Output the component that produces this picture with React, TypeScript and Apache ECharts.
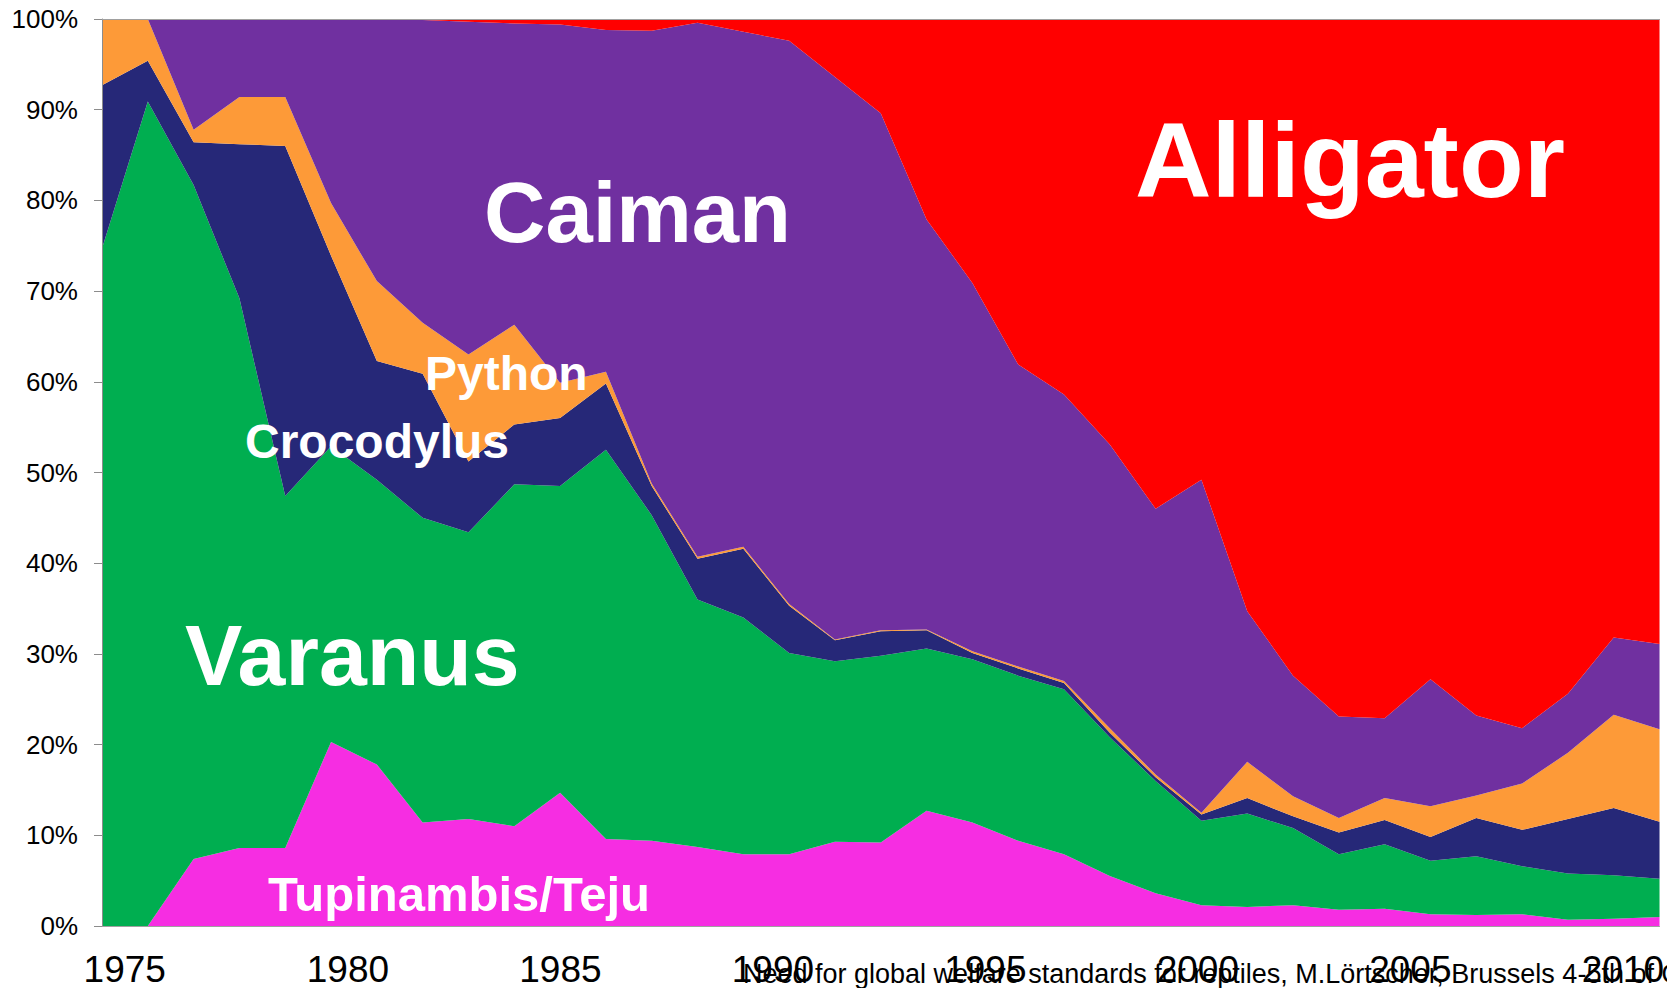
import React, { useEffect, useRef } from "react";
import * as echarts from "echarts";

// 35 data points (one per step along the x axis)
const categories = [
  "1975", "1976", "1977", "1978", "1979", "1980", "1981", "1982", "1983", "1984",
  "1985", "1986", "1987", "1988", "1989", "1990", "1991", "1992", "1993", "1994",
  "1995", "1996", "1997", "1998", "1999", "2000", "2001", "2002", "2003", "2004",
  "2005", "2006", "2007", "2008", "2009",
];

const tupinambis = [0, 0, 7.4, 8.6, 8.6, 20.3, 17.8, 11.4, 11.8, 11.0, 14.7, 9.6, 9.4, 8.7, 7.9, 7.9, 9.3, 9.2, 12.7, 11.4, 9.4, 7.9, 5.5, 3.6, 2.3, 2.1, 2.3, 1.8, 1.9, 1.3, 1.2, 1.3, 0.7, 0.8, 1.0];
const varanus = [74.7, 90.9, 74.3, 60.6, 38.8, 32.6, 31.4, 33.6, 31.6, 37.7, 33.8, 42.9, 35.9, 27.3, 26.1, 22.2, 19.9, 20.6, 17.9, 18.0, 18.2, 18.2, 15.3, 12.4, 9.3, 10.3, 8.5, 6.1, 7.1, 5.9, 6.5, 5.3, 5.1, 4.8, 4.2];
const crocodylus = [18.0, 4.5, 4.7, 17.0, 38.6, 21.0, 13.1, 15.9, 7.8, 6.6, 7.5, 7.3, 3.2, 4.5, 7.6, 5.2, 2.3, 2.7, 2.0, 0.7, 0.8, 0.7, 0.5, 0.4, 0.7, 1.7, 1.3, 2.4, 2.7, 2.6, 4.2, 4.0, 6.0, 7.4, 6.3];
const python = [7.3, 4.6, 1.4, 5.2, 5.4, 5.8, 8.8, 5.6, 11.8, 11.0, 3.9, 1.3, 0.3, 0.2, 0.2, 0.2, 0.1, 0.1, 0.1, 0.2, 0.2, 0.2, 0.5, 0.3, 0.2, 4.0, 2.2, 1.6, 2.4, 3.4, 2.5, 5.1, 7.3, 10.3, 10.2];
const caiman = [0, 0, 12.2, 8.6, 8.6, 20.3, 28.9, 33.4, 36.7, 33.2, 39.5, 37.7, 49.9, 58.9, 56.8, 62.1, 62.0, 57.0, 45.2, 40.6, 33.3, 31.6, 31.3, 29.3, 36.7, 16.6, 13.3, 11.2, 8.8, 14.0, 8.8, 6.1, 6.5, 8.5, 9.4];
const alligator = [0, 0, 0, 0, 0, 0, 0, 0.1, 0.3, 0.5, 0.6, 1.2, 1.3, 0.4, 1.4, 2.4, 6.4, 10.4, 22.1, 29.1, 38.1, 41.4, 46.9, 54.0, 50.8, 65.3, 72.4, 76.9, 77.1, 72.8, 76.8, 78.2, 74.4, 68.2, 68.9];

// year tick label positions on the label axis (the first label sits a little left in the original)
const yearLabels = [1974.75, 1980, 1985, 1990, 1995, 2000, 2005, 2010];
const yTicks = [0, 10, 20, 30, 40, 50, 60, 70, 80, 90, 100];

const FONT = "'Liberation Sans', Arial, Helvetica, sans-serif";

export default function App() {
  const ref = useRef<HTMLDivElement>(null);

  useEffect(() => {
    if (!ref.current) return;
    const chart = echarts.init(ref.current, null, { renderer: "svg" });

    const mk = (name: string, data: number[], color: string) => ({
      name,
      type: "line",
      stack: "total",
      data,
      symbol: "none",
      showSymbol: false,
      lineStyle: { width: 0 },
      itemStyle: { color },
      areaStyle: { color, opacity: 1 },
      emphasis: { disabled: true },
      silent: true,
    });

    const label = (text: string, x: number, baseline: number, fs: number, color = "#fff", weight = "bold") => ({
      type: "text",
      x,
      y: baseline - 0.3465 * fs,
      z: 100,
      style: {
        text,
        fill: color,
        font: `${weight} ${fs}px ${FONT}`,
        fontFamily: FONT,
        fontSize: fs,
        fontWeight: weight,
        textAlign: "left",
        textVerticalAlign: "middle",
        verticalAlign: "middle",
      },
    });

    chart.setOption({
      animation: false,
      backgroundColor: "#fff",
      grid: { left: 102, top: 19, right: 0, bottom: 61, containLabel: false },
      xAxis: [
        {
          type: "category",
          data: categories,
          boundaryGap: false,
          z: 5,
          axisLine: { show: true, lineStyle: { color: "#a0a0a0", width: 1 } },
          axisTick: { show: false },
          axisLabel: { show: false },
          splitLine: { show: false },
        },
        {
          type: "value",
          position: "bottom",
          min: 1974.214,
          max: 2010.863,
          axisLine: { show: false },
          axisTick: { show: false },
          splitLine: { show: false },
          axisLabel: {
            show: true,
            customValues: yearLabels,
            formatter: (v: number) => String(Math.round(v)),
            fontSize: 37,
            fontFamily: FONT,
            color: "#000",
            margin: 25,
          },
        },
        {
          type: "value",
          position: "top",
          min: 0,
          max: 1,
          z: 5,
          axisLine: { show: true, lineStyle: { color: "#a0a0a0", width: 1 } },
          axisTick: { show: false },
          axisLabel: { show: false },
          splitLine: { show: false },
        },
      ],
      yAxis: {
        type: "value",
        min: 0,
        max: 100,
        interval: 10,
        z: 5,
        axisLine: { show: true, lineStyle: { color: "#8c8c8c", width: 1 } },
        axisTick: { show: true, length: 8, lineStyle: { color: "#8c8c8c" } },
        splitLine: { show: false },
        axisLabel: {
          customValues: yTicks,
          formatter: "{value}%",
          fontSize: 26,
          fontFamily: FONT,
          color: "#000",
          margin: 24,
        },
      },
      series: [
        mk("Tupinambis/Teju", tupinambis, "#F62DE2"),
        mk("Varanus", varanus, "#00AE50"),
        mk("Crocodylus", crocodylus, "#262878"),
        mk("Python", python, "#FD9A38"),
        mk("Caiman", caiman, "#7030A0"),
        mk("Alligator", alligator, "#FF0000"),
      ],
      graphic: [
        label("Alligator", 1135, 197, 106),
        label("Caiman", 484, 242, 85),
        label("Python", 425, 390, 48),
        label("Crocodylus", 245, 458, 48),
        label("Varanus", 185, 685, 86),
        label("Tupinambis/Teju", 268, 911, 49),
        label(
          "Need for global welfare standards for reptiles, M.Lörtscher, Brussels 4-5th of October 2011",
          743,
          983,
          27,
          "#000",
          "normal"
        ),
      ],
    });

    return () => chart.dispose();
  }, []);

  return (
    <div
      ref={ref}
      style={{ position: "fixed", left: 0, top: 0, width: 1667, height: 988, background: "#fff" }}
    />
  );
}
